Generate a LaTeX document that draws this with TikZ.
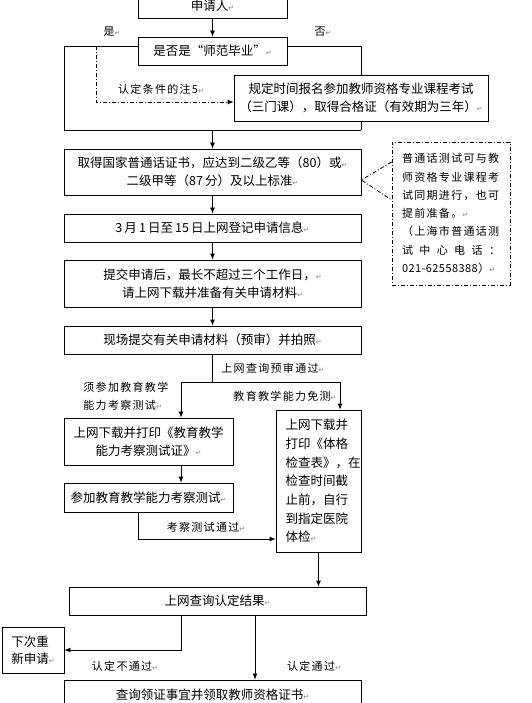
\documentclass[tikz,border=0pt]{standalone}
\usepackage{fontspec}
\setmainfont{Noto Sans CJK SC}
\newfontfamily\labelfont[LetterSpace=12]{Noto Sans CJK SC}
\newfontfamily\markfont{DejaVu Sans}
\usetikzlibrary{arrows.meta}
\newcommand\parmark{{\markfont\color{gray}\fontsize{7}{7}\selectfont ↵}}
\tikzset{
  box/.style={draw, inner sep=0pt, align=center, font=\fontsize{12.5}{17.5}\selectfont},
  tipbox/.style={draw, dash pattern=on 4pt off 2pt on 1pt off 2pt, inner sep=0pt,
    minimum width=118pt, minimum height=143pt, text width=98pt, align=left,
    font=\labelfont\fontsize{11}{18.3}\selectfont},
  lbl/.style={inner sep=1pt, font=\labelfont\fontsize{11}{18.5}\selectfont},
  arr/.style={-{Latex[length=6pt,width=5pt]}},
  dashdot/.style={dash pattern=on 4pt off 2pt on 1pt off 2pt}
}
\begin{document}
\begin{tikzpicture}[x=1pt,y=-1pt,line width=0.8pt]
                    \useasboundingbox (0,0) rectangle (531,703);

                    \node[box, minimum width=149pt, minimum height=24pt] (apply) at (212.5,6) {申请人\parmark};
                    \node[box, minimum width=149pt, minimum height=28pt] (normal) at (212.5,51) {是否是“师范毕业”\parmark};
                    \node[box, minimum width=254pt, minimum height=46pt] (rule) at (361,98)
                        {规定时间报名参加教师资格专业课程考试\\（三门课），取得合格证（有效期为三年）\parmark};
                    \node[box, minimum width=297pt, minimum height=46pt] (mandarin) at (212.5,172)
                        {取得国家普通话证书，应达到二级乙等（80）或\parmark\\二级甲等（87\,分）及以上标准\parmark};
                    \node[tipbox] (tip) at (451,213.5)
                        {普通话测试可与教\\师资格专业课程考\\试同期进行，也可\\提前准备。\parmark\\（上海市普通话测\\
                         \makebox[98pt][s]{试\hfill 中\hfill 心\hfill 电\hfill 话\hfill ：}\\
                         \mbox{\addfontfeature{LetterSpace=4}021-62558388）\parmark}};
                    \node[box, minimum width=297pt, minimum height=28pt] (online) at (212.5,228)
                        {3\,月\,1\,日至\,15\,日上网登记申请信息\parmark};
                    \node[box, minimum width=297pt, minimum height=47pt] (submit) at (212.5,283.5)
                        {提交申请后，最长不超过三个工作日，\parmark\\请上网下载并准备有关申请材料\parmark};
                    \node[box, minimum width=297pt, minimum height=28pt] (onsite) at (212.5,340)
                        {现场提交有关申请材料（预审）并拍照\parmark};
                    \node[box, minimum width=169pt, minimum height=47pt] (permit) at (148.5,441.5)
                        {上网下载并打印《教育教学\\能力考察测试证》\parmark};
                    \node[box, minimum width=169pt, minimum height=29pt] (exam) at (148.5,497.5)
                        {参加教育教学能力考察测试\parmark};
                    \node[box, minimum width=85pt, minimum height=142pt, text width=66pt, align=left,
                          font=\fontsize{12.5}{18.7}\selectfont] (medical) at (318.5,481)
                        {上网下载并\\打印《体格\\检查表》，在\\检查时间截\\止前，自行\\到指定医院\\体检\parmark};
                    \node[box, minimum width=297pt, minimum height=28pt] (result) at (217.5,601) {上网查询认定结果\parmark};
                    \node[box, minimum width=62pt, minimum height=46pt, align=left] (retry) at (33,650) {下次重\\新申请\parmark};
                    \node[box, minimum width=297pt, minimum height=30pt] (issue) at (212.5,695)
                        {查询领证事宜并领取教师资格证书\parmark};

                    \node[lbl] (yes) at (112,32) {是\parmark};
                    \node[lbl] (no) at (323,32) {否\parmark};
                    \node[lbl] (note5) at (161,89) {认定条件的注5\parmark};
                    \node[lbl, anchor=west] (pre) at (220,368) {上网查询预审通过\parmark};
                    \node[lbl, anchor=west, align=left] (must) at (82,396.5) {须参加教育教学\\能力考察测试\parmark};
                    \node[lbl, anchor=east] (exempt) at (338,396) {教育教学能力免测\parmark};
                    \node[lbl] (passed) at (206,527) {考察测试通过\parmark};
                    \node[lbl] (fail) at (125,666) {认定不通过\parmark};
                    \node[lbl] (ok) at (314,666) {认定通过\parmark};

                    \coordinate (jl) at (64,130);
                    \coordinate (jr) at (361,130);
                    \coordinate (jm) at (212.5,130);
                    \coordinate (side) at (96,46);
                    \coordinate (split) at (212.5,382);
                    \coordinate (sl) at (181,382);
                    \coordinate (sr) at (340,382);
                    \coordinate (back) at (138,539);
                    \coordinate (down) at (255,615);

                    \draw[arr] (apply.south) -- (normal.north);
                    \draw ([yshift=5pt]normal.west) -| (jl) -- (jr);
                    \draw ([yshift=5pt]normal.east) -| (rule.north);
                    \draw (rule.south) -- (jr);
                    \draw[arr] (jm) -- (mandarin.north);
                    \draw[dashdot, arr] (side) |- ([yshift=-4pt]rule.west);
                    \draw[dashdot] ([yshift=51.5pt]tip.west) -- ([yshift=-8pt]mandarin.east) -- ([yshift=13.5pt]tip.west);
                    \draw[arr] (mandarin.south) -- (online.north);
                    \draw[arr] (online.south) -- (submit.north);
                    \draw[arr] (submit.south) -- (onsite.north);
                    \draw (onsite.south) -- (split);
                    \draw (sl) -- (sr);
                    \draw[arr] (sl) -- (sl |- permit.north);
                    \draw[arr] (sr) -- (sr |- medical.north);
                    \draw[arr] (sl |- permit.south) -- (sl |- exam.north);
                    \draw[arr] (back |- exam.south) |- (back -| medical.west);
                    \draw[arr] (medical.south) -- (medical.south |- result.north);
                    \draw[arr] (sl |- result.south) |- (retry.east);
                    \draw[arr] (down) -- (down |- issue.north);
\end{tikzpicture}
\end{document}
